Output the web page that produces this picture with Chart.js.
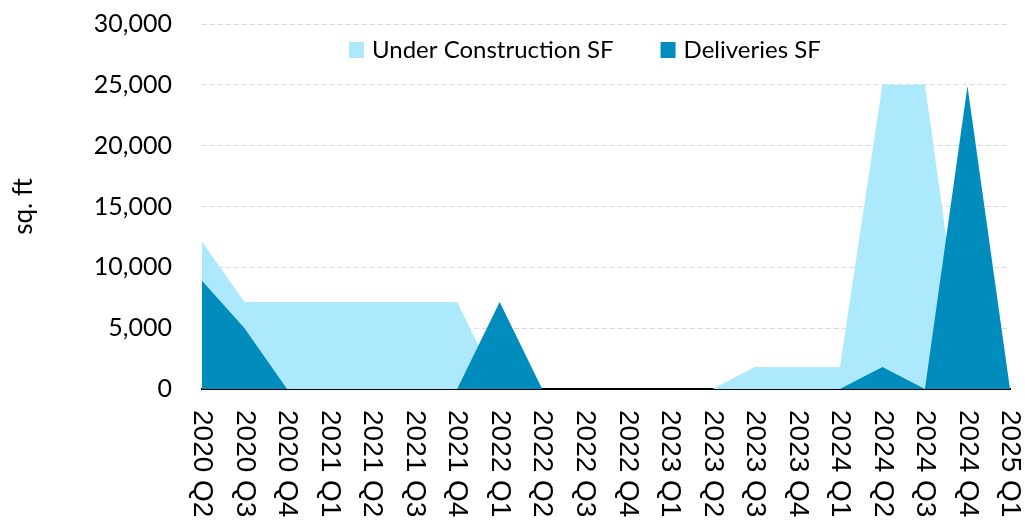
<!DOCTYPE html>
<html>
<head>
<meta charset="utf-8">
<script src="https://cdn.jsdelivr.net/npm/chart.js@4.4.1/dist/chart.umd.min.js"></script>
<style>
  html, body { margin: 0; padding: 0; background: #fff; }
  #wrap { width: 1025px; height: 520px; }
</style>
</head>
<body>
<div id="wrap"><canvas id="myChart" width="1025" height="520"></canvas></div>
<script>
const quarters = ['2020 Q2', '2020 Q3', '2020 Q4', '2021 Q1', '2021 Q2', '2021 Q3', '2021 Q4',
    '2022 Q1', '2022 Q2', '2022 Q3', '2022 Q4', '2023 Q1', '2023 Q2', '2023 Q3', '2023 Q4',
    '2024 Q1', '2024 Q2', '2024 Q3', '2024 Q4', '2025 Q1'];
const underConstruction = [12100, 7150, 7150, 7150, 7150, 7150, 7150,
    0, 0, 0, 0, 0, 0, 1800, 1800, 1800, 25000, 25000, 0, 0];
const deliveries = [8900, 5000, 0, 0, 0, 0, 0,
    7150, 0, 0, 0, 0, 0, 0, 0, 0, 1800, 0, 24900, 0];
const yTicks = [0, 5000, 10000, 15000, 20000, 25000, 30000];

const lightBlue = 'rgb(173, 233, 253)';
const darkBlue = 'rgb(0, 140, 189)';

// x labels read top-to-bottom, so draw them ourselves
const xLabelPlugin = {
    id: 'xLabels',
    afterDraw(chart) {
        const ctx = chart.ctx;
        const xs = chart.scales.x;
        ctx.save();
        ctx.fillStyle = '#000';
        ctx.font = '28px "Liberation Sans", Arial, sans-serif';
        ctx.textAlign = 'left';
        ctx.textBaseline = 'middle';
        quarters.forEach((q, i) => {
            ctx.save();
            ctx.translate(xs.getPixelForTick(i), chart.chartArea.bottom + 21);
            ctx.rotate(Math.PI / 2);
            ctx.fillText(q, 0, 0);
            ctx.restore();
        });
        ctx.restore();
    }
};

// legend sits inside the plot, below the top gridline
const legendPlugin = {
    id: 'innerLegend',
    afterDraw(chart) {
        const ctx = chart.ctx;
        const area = chart.chartArea;
        ctx.save();
        ctx.font = '24px Lato, sans-serif';
        ctx.textBaseline = 'middle';
        ctx.textAlign = 'left';
        let x = area.left + 147;
        const y = area.top + 18;
        chart.data.datasets.forEach((ds) => {
            ctx.fillStyle = ds.backgroundColor;
            ctx.fillRect(x, y, 15, 16);
            ctx.fillStyle = '#000';
            ctx.fillText(ds.label, x + 23, y + 8);
            x += 23 + ctx.measureText(ds.label).width + 47;
        });
        ctx.restore();
    }
};

const ctx = document.getElementById('myChart').getContext('2d');
new Chart(ctx, {
    type: 'line',
    data: {
        labels: quarters,
        datasets: [
            {
                label: 'Under Construction SF',
                data: underConstruction,
                backgroundColor: lightBlue,
                borderColor: lightBlue,
                borderWidth: 0,
                fill: 'origin',
                pointRadius: 0,
                tension: 0,
                order: 2
            },
            {
                label: 'Deliveries SF',
                data: deliveries,
                backgroundColor: darkBlue,
                borderColor: darkBlue,
                borderWidth: 0,
                fill: 'origin',
                pointRadius: 0,
                tension: 0,
                order: 1
            }
        ]
    },
    options: {
        responsive: false,
        animation: false,
        layout: { padding: { top: 24, right: 15, left: 0, bottom: 0 } },
        plugins: {
            legend: { display: false },
            tooltip: { enabled: false }
        },
        scales: {
            x: {
                offset: false,
                grid: { display: false },
                border: { color: '#000', width: 2 },
                ticks: { display: false },
                afterFit: (s) => { s.height = 131; }
            },
            y: {
                min: 0,
                max: 30000,
                afterBuildTicks: (s) => { s.ticks = yTicks.map(v => ({ value: v })); },
                afterFit: (s) => { s.width = 202; },
                border: { display: false, dash: [5, 3] },
                grid: {
                    color: (c) => c.tick.value === 0 ? 'rgba(0,0,0,0)' : '#d9d9d9',
                    lineWidth: 1,
                    drawTicks: true,
                    tickLength: 30,
                    tickColor: 'rgba(0,0,0,0)'
                },
                ticks: {
                    padding: 0,
                    color: '#000',
                    font: { family: 'Lato', size: 25 },
                    callback: (v) => v.toLocaleString('en-US')
                },
                title: {
                    display: true,
                    text: 'sq. ft',
                    color: '#000',
                    font: { family: 'Lato', size: 26 },
                    padding: { top: 8, bottom: 0 }
                }
            }
        }
    },
    plugins: [xLabelPlugin, legendPlugin]
});
</script>
</body>
</html>
